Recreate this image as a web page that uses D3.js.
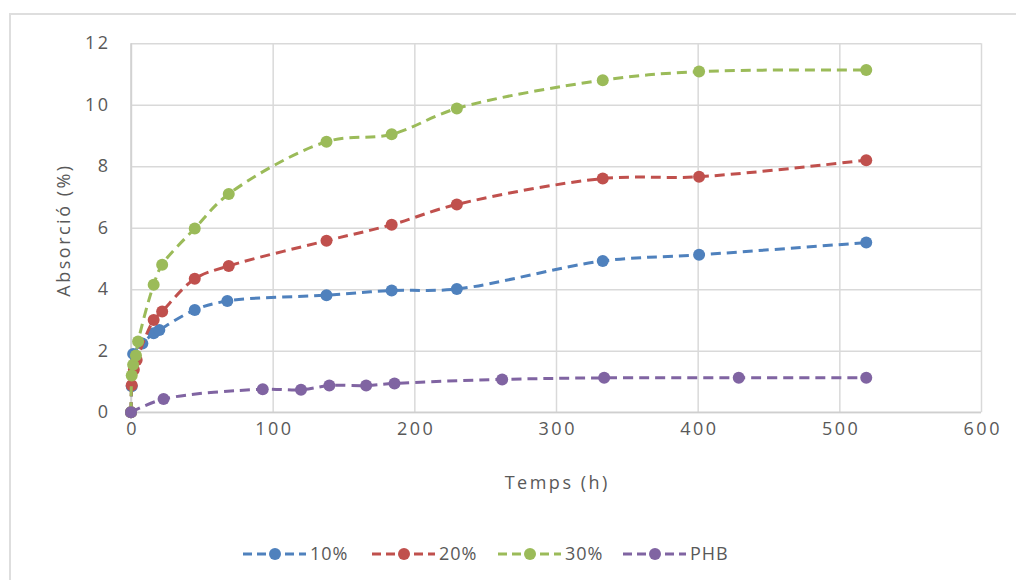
<!DOCTYPE html>
<html>
<head>
<meta charset="utf-8">
<script src="https://cdn.jsdelivr.net/npm/d3@7/dist/d3.min.js"></script>
<style>
  html, body { margin: 0; padding: 0; background: #fff; }
  svg { display: block; }
  text { font-family: "Open Sans", Lato, sans-serif; fill: #595959; }
</style>
</head>
<body>
<svg id="chart" width="1016" height="580"></svg>
<script>
// Absorption (%) over time (h) for three loadings and neat PHB
const seriesNames = ["10%", "20%", "30%", "PHB"];
const seriesColors = ["#4f81bd", "#c0504d", "#9bbb59", "#8064a2"];

const time10 = [0, 0.5, 1.5, 8, 16, 20, 45, 68, 138, 184, 230, 333, 401, 519];
const abs10  = [0, 0.85, 1.9, 2.24, 2.57, 2.68, 3.33, 3.62, 3.81, 3.96, 4.01, 4.92, 5.12, 5.52];

const time20 = [0, 0.5, 2, 4, 16, 22, 45, 69, 138, 184, 230, 333, 401, 519];
const abs20  = [0, 0.88, 1.38, 1.7, 3.0, 3.28, 4.34, 4.76, 5.58, 6.1, 6.76, 7.6, 7.66, 8.2];

const time30 = [0, 0.5, 1.5, 3.5, 5, 16, 22, 45, 69, 138, 184, 230, 333, 401, 519];
const abs30  = [0, 1.2, 1.55, 1.85, 2.3, 4.15, 4.8, 5.98, 7.1, 8.8, 9.04, 9.88, 10.8, 11.08, 11.13];

const timePHB = [0, 23, 93, 120, 140, 166, 186, 262, 334, 429, 519];
const absPHB  = [0, 0.43, 0.75, 0.73, 0.87, 0.87, 0.94, 1.07, 1.12, 1.12, 1.12];

const xTicks = [0, 100, 200, 300, 400, 500, 600];
const yTicks = [0, 2, 4, 6, 8, 10, 12];

const xTitle = "Temps (h)";
const yTitle = "Absorció (%)";

const seriesTimes = [time10, time20, time30, timePHB];
const seriesValues = [abs10, abs20, abs30, absPHB];

const svg = d3.select("#chart");

// chart frame
svg.append("rect")
  .attr("x", 10).attr("y", 14)
  .attr("width", 1030).attr("height", 600)
  .attr("fill", "none")
  .attr("stroke", "#dedede")
  .attr("stroke-width", 2);

const plot = { left: 131, right: 981, top: 43.3, bottom: 412.3 };

const x = d3.scaleLinear().domain([0, 600]).range([plot.left, plot.right]);
const y = d3.scaleLinear().domain([0, 12]).range([plot.bottom, plot.top]);

const fontSize = "18px";
const spacing = "2.5px";

// horizontal grid + y labels
const yAxis = svg.append("g")
  .attr("transform", `translate(${plot.left},0)`)
  .call(d3.axisLeft(y).tickValues(yTicks).tickSize(-(plot.right - plot.left)).tickPadding(20.5).tickFormat(d3.format("d")));
yAxis.select(".domain").remove();
yAxis.selectAll(".tick line").attr("stroke", "#d9d9d9").attr("stroke-width", 1.5);
yAxis.selectAll(".tick text")
  .style("font-size", fontSize).style("letter-spacing", spacing)
  .attr("font-family", null).attr("fill", "#595959").attr("dy", "0.3em");

// vertical grid + x labels
const xAxis = svg.append("g")
  .attr("transform", `translate(0,${plot.bottom})`)
  .call(d3.axisBottom(x).tickValues(xTicks).tickSize(-(plot.bottom - plot.top)).tickPadding(21).tickFormat(d3.format("d")));
xAxis.select(".domain").remove();
xAxis.selectAll(".tick line").attr("stroke", "#d9d9d9").attr("stroke-width", 1.5);
xAxis.selectAll(".tick text")
  .style("font-size", fontSize).style("letter-spacing", spacing)
  .attr("font-family", null).attr("fill", "#595959").attr("dy", "0.1em")
  .attr("dx", "1.25px");

// axis lines
svg.append("line")
  .attr("x1", plot.left).attr("x2", plot.right)
  .attr("y1", plot.bottom).attr("y2", plot.bottom)
  .attr("stroke", "#cfcfcf").attr("stroke-width", 1.5);
svg.append("line")
  .attr("x1", plot.left).attr("x2", plot.left)
  .attr("y1", plot.top).attr("y2", plot.bottom)
  .attr("stroke", "#cfcfcf").attr("stroke-width", 1.5);

// axis titles
svg.append("text")
  .attr("x", (plot.left + plot.right) / 2 + 1.25).attr("y", 489)
  .attr("text-anchor", "middle")
  .style("font-size", fontSize).style("letter-spacing", spacing)
  .text(xTitle);
svg.append("text")
  .attr("transform", "translate(70,230) rotate(-90)")
  .attr("text-anchor", "middle")
  .style("font-size", fontSize).style("letter-spacing", spacing)
  .text(yTitle);

// series
const line = d3.line()
  .x(d => x(d[0]))
  .y(d => y(d[1]))
  .curve(d3.curveCatmullRom.alpha(0.5));

const dash = "10,6";
const lineWidth = 3;
const markerR = 6;

seriesNames.forEach((name, i) => {
  const pts = seriesTimes[i].map((t, k) => [t, seriesValues[i][k]]);
  const g = svg.append("g");
  g.append("path")
    .datum(pts)
    .attr("d", line)
    .attr("fill", "none")
    .attr("stroke", seriesColors[i])
    .attr("stroke-width", lineWidth)
    .attr("stroke-dasharray", dash);
  g.selectAll("circle")
    .data(pts)
    .join("circle")
    .attr("cx", d => x(d[0]))
    .attr("cy", d => y(d[1]))
    .attr("r", markerR)
    .attr("fill", seriesColors[i]);
});

// legend
const legendX = [243, 372, 498, 623];
const legendY = 554;
const legend = svg.append("g");
seriesNames.forEach((name, i) => {
  const g = legend.append("g").attr("transform", `translate(${legendX[i]},${legendY})`);
  g.append("line")
    .attr("x1", 0).attr("x2", 63)
    .attr("y1", 0).attr("y2", 0)
    .attr("stroke", seriesColors[i])
    .attr("stroke-width", lineWidth)
    .attr("stroke-dasharray", "9,5");
  g.append("circle")
    .attr("cx", 32).attr("cy", 0).attr("r", markerR)
    .attr("fill", seriesColors[i]);
  g.append("text")
    .attr("x", 67).attr("y", 0).attr("dy", "0.36em")
    .style("font-size", fontSize).style("letter-spacing", "1px")
    .text(name);
});
</script>
</body>
</html>
